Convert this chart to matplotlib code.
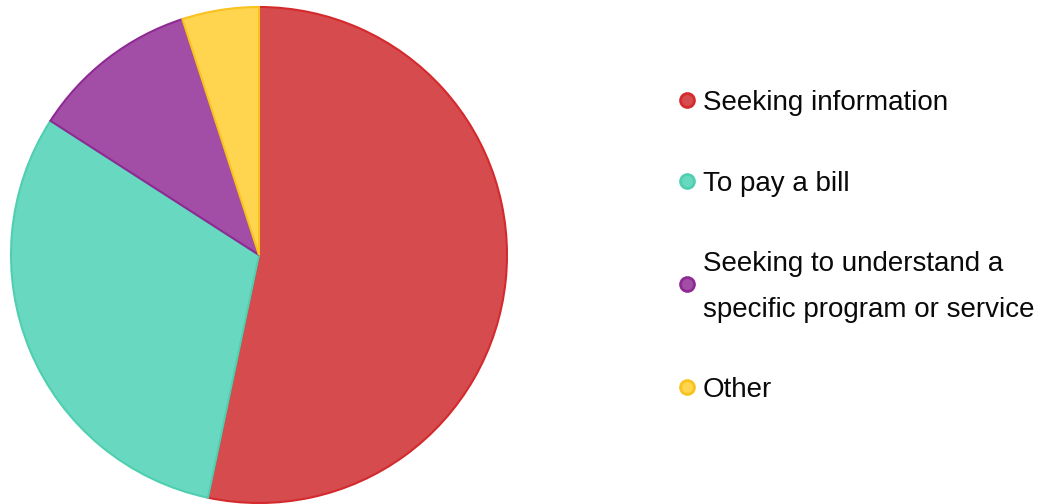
import matplotlib.pyplot as plt

labels = ["Seeking information", "To pay a bill",
          "Seeking to understand a\nspecific program or service", "Other"]
values = [53.3, 30.8, 10.9, 5.0]
fills = ["#D64B4D", "#69D8C0", "#A34EA6", "#FFD54F"]
edges = ["#D42A2E", "#4FCFB0", "#8E2A94", "#F9C21E"]

plt.rcParams['font.family'] = ['Liberation Sans', 'DejaVu Sans']

W, H = 1053, 504
fig = plt.figure(figsize=(W / 100, H / 100), dpi=100)

# pie: centre at (259, 255) px, radius 248 px
cx, cy, r = 259, 255, 248
ax = fig.add_axes([(cx - r) / W, (H - cy - r) / H, 2 * r / W, 2 * r / H])
wedges, _ = ax.pie(values, colors=fills, startangle=90, counterclock=False,
                   radius=1.0, wedgeprops=dict(linewidth=1.5))
for w, ec in zip(wedges, edges):
    w.set_edgecolor(ec)
ax.set_xlim(-1.0, 1.0)
ax.set_ylim(-1.0, 1.0)
ax.set_aspect('equal')
ax.axis('off')

# legend drawn in pixel coordinates
lg = fig.add_axes([0, 0, 1, 1])
lg.set_xlim(0, W)
lg.set_ylim(H, 0)
lg.axis('off')
ys = [100, 181, 284, 387]
for lab, y, fc, ec in zip(labels, ys, fills, edges):
    lg.plot([687], [y], marker='o', markersize=10, markerfacecolor=fc,
            markeredgecolor=ec, markeredgewidth=2, linestyle='none')
    lg.text(703, y + 3, lab, fontsize=20, va='center', ha='left',
            color='#0a0a0a', linespacing=2.0)

fig.savefig("out.png", dpi=100)
